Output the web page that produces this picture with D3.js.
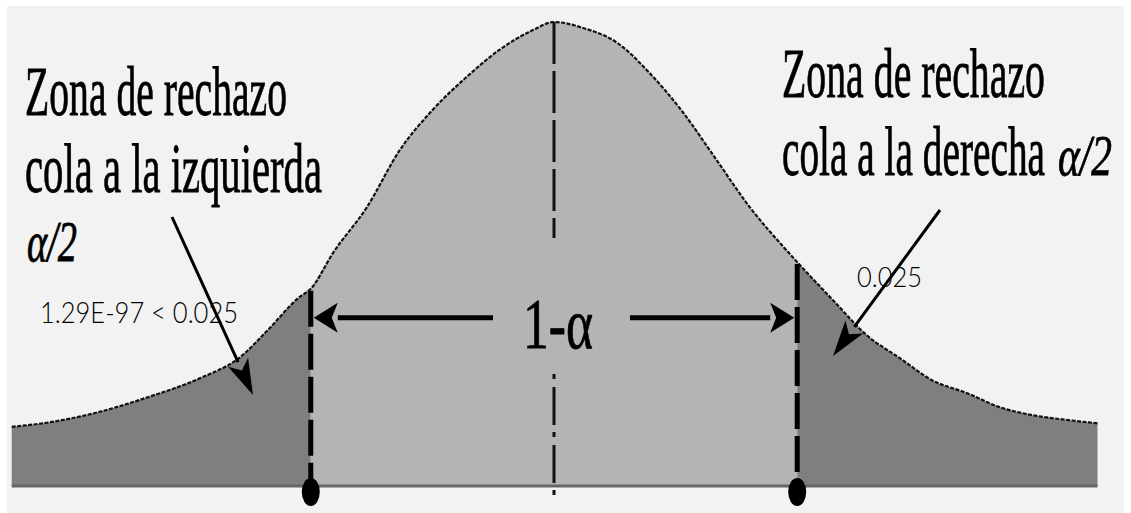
<!DOCTYPE html>
<html>
<head>
<meta charset="utf-8">
<script src="https://cdn.jsdelivr.net/npm/d3@7"></script>
<style>
  body { margin: 0; background: #fff; }
  svg { display: block; }
  .serif { font-family: "Liberation Serif", "Times New Roman", serif; }
  .sans { font-family: "Lato", "Open Sans", sans-serif; }
</style>
</head>
<body>
<div id="chart"></div>
<script>
// curve: z value and height of the density
const curveZ = [-4.37, -4.06, -3.66, -3.26, -2.85, -2.53, -2.31, -2.05, -1.96, -1.78, -1.51, -1.24, -0.98, -0.70, -0.44, -0.17, 0,
                0.23, 0.51, 0.77, 1.04, 1.31, 1.58, 1.85, 1.96, 2.25, 2.52, 2.79, 3.05, 3.33, 3.59, 3.86, 4.13, 4.38];
const curveDensity = [0.051, 0.055, 0.064, 0.077, 0.093, 0.111, 0.134, 0.163, 0.170, 0.201, 0.240, 0.290, 0.324, 0.353, 0.376, 0.393, 0.400,
                      0.395, 0.382, 0.356, 0.322, 0.281, 0.240, 0.206, 0.193, 0.160, 0.130, 0.110, 0.091, 0.080, 0.068, 0.061, 0.057, 0.054];
const criticalZ = [-1.96, 1.96];
const leftLabel = ["Zona de rechazo", "cola a la izquierda"];
const rightLabel = ["Zona de rechazo", "cola a la derecha"];
const alphaHalf = "α/2";
const centerLabel = "1-α";
const pValueLabels = ["1.29E-97 < 0.025", "0.025"];

const width = 1131, height = 513;
const points = curveZ.map((z, i) => ({z, y: curveDensity[i]}));

const svg = d3.select("#chart")
    .append("svg")
    .attr("width", width)
    .attr("height", height);

//background with the white border of the scan
svg.append("rect").attr("width", width).attr("height", height).attr("fill", "#fff");
svg.append("rect").attr("x", 7).attr("y", 6).attr("width", 1117).attr("height", 507).attr("fill", "#f2f2f2");

const xScale = d3.scaleLinear().domain([-4.4, 4.4]).range([8, 1100]);
const yScale = d3.scaleLinear().domain([0, 0.4]).range([486, 22]);

const area = d3.area()
    .x(d => xScale(d.z))
    .y0(yScale(0))
    .y1(d => yScale(d.y))
    .curve(d3.curveMonotoneX);

//three shaded zones
svg.append("path").datum(points.filter(d => d.z <= criticalZ[0]))
    .attr("d", area).attr("fill", "#7f7f7f");
svg.append("path").datum(points.filter(d => d.z >= criticalZ[0] && d.z <= criticalZ[1]))
    .attr("d", area).attr("fill", "#b4b4b4");
svg.append("path").datum(points.filter(d => d.z >= criticalZ[1]))
    .attr("d", area).attr("fill", "#7f7f7f");

//baseline
svg.append("line")
    .attr("x1", xScale(curveZ[0])).attr("x2", xScale(curveZ[curveZ.length - 1]))
    .attr("y1", yScale(0)).attr("y2", yScale(0))
    .attr("stroke", "#666").attr("stroke-width", 3);

//curve outline
svg.append("path").datum(points)
    .attr("d", d3.line().x(d => xScale(d.z)).y(d => yScale(d.y)).curve(d3.curveMonotoneX))
    .attr("fill", "none")
    .attr("stroke", "#111")
    .attr("stroke-width", 2.2)
    .attr("stroke-dasharray", "4 1.5");

//center dashed line (broken around the label)
const cx = xScale(0);
svg.append("line")
    .attr("x1", cx).attr("x2", cx).attr("y1", yScale(0.4)).attr("y2", 238)
    .attr("stroke", "#111").attr("stroke-width", 3).attr("stroke-dasharray", "42 7");
svg.append("line")
    .attr("x1", cx).attr("x2", cx).attr("y1", 374).attr("y2", 496)
    .attr("stroke", "#111").attr("stroke-width", 3).attr("stroke-dasharray", "5 8 38 7");

//critical value lines with dots
criticalZ.forEach(z => {
    const d = points.find(p => p.z === z);
    svg.append("line")
        .attr("x1", xScale(z)).attr("x2", xScale(z))
        .attr("y1", yScale(d.y) + 2).attr("y2", yScale(0))
        .attr("stroke", "#000").attr("stroke-width", 5)
        .attr("stroke-dasharray", "36 7");
    svg.append("ellipse")
        .attr("cx", xScale(z)).attr("cy", yScale(0) + 6)
        .attr("rx", 9).attr("ry", 14)
        .attr("fill", "#000");
});

function arrow(x1, y1, x2, y2, len, half, w) {
    const a = Math.atan2(y2 - y1, x2 - x1);
    const bx = x2 - len * Math.cos(a), by = y2 - len * Math.sin(a);
    svg.append("line")
        .attr("x1", x1).attr("y1", y1).attr("x2", bx).attr("y2", by)
        .attr("stroke", "#000").attr("stroke-width", w);
    const px = -Math.sin(a) * half, py = Math.cos(a) * half;
    svg.append("path")
        .attr("d", `M${x2},${y2}L${bx + px},${by + py}L${bx + len * 0.25 * Math.cos(a)},${by + len * 0.25 * Math.sin(a)}L${bx - px},${by - py}Z`)
        .attr("fill", "#000");
}

//1-alpha arrows
const ay = yScale(0.145);
arrow(493, ay, xScale(criticalZ[0]) + 3, ay, 24, 15, 5);
arrow(630, ay, xScale(criticalZ[1]) - 3, ay, 24, 15, 5);

//pointer arrows
arrow(172, 217, 253, 395, 36, 11, 3);
arrow(940, 210, 833, 356, 36, 11, 3);

function serifText(str, x, y, size, len, italic) {
    svg.append("text")
        .attr("class", "serif")
        .attr("x", x).attr("y", y)
        .attr("font-size", size)
        .attr("font-style", italic ? "italic" : "normal")
        .attr("textLength", len)
        .attr("lengthAdjust", "spacingAndGlyphs")
        .attr("fill", "#000")
        .attr("stroke", "#000")
        .attr("stroke-width", 0.8)
        .text(str);
}

serifText(leftLabel[0], 25, 115, 70, 262);
serifText(leftLabel[1], 25, 192, 70, 297);
serifText(alphaHalf, 27, 261, 56, 50, true);
serifText(rightLabel[0], 782, 97, 70, 263);
serifText(rightLabel[1], 782, 175, 70, 263);
serifText(alphaHalf, 1058, 175, 56, 54, true);
serifText(centerLabel, 523, 348, 72, 70);

//p-value annotations
svg.append("text")
    .attr("class", "sans")
    .attr("x", 40).attr("y", 323)
    .attr("font-weight", 300)
    .attr("font-size", 30)
    .attr("textLength", 198)
    .attr("lengthAdjust", "spacingAndGlyphs")
    .attr("fill", "#000")
    .text(pValueLabels[0]);
svg.append("text")
    .attr("class", "sans")
    .attr("x", 857).attr("y", 287)
    .attr("font-weight", 300)
    .attr("font-size", 28)
    .attr("textLength", 65)
    .attr("lengthAdjust", "spacingAndGlyphs")
    .attr("fill", "#000")
    .text(pValueLabels[1]);
</script>
</body>
</html>
